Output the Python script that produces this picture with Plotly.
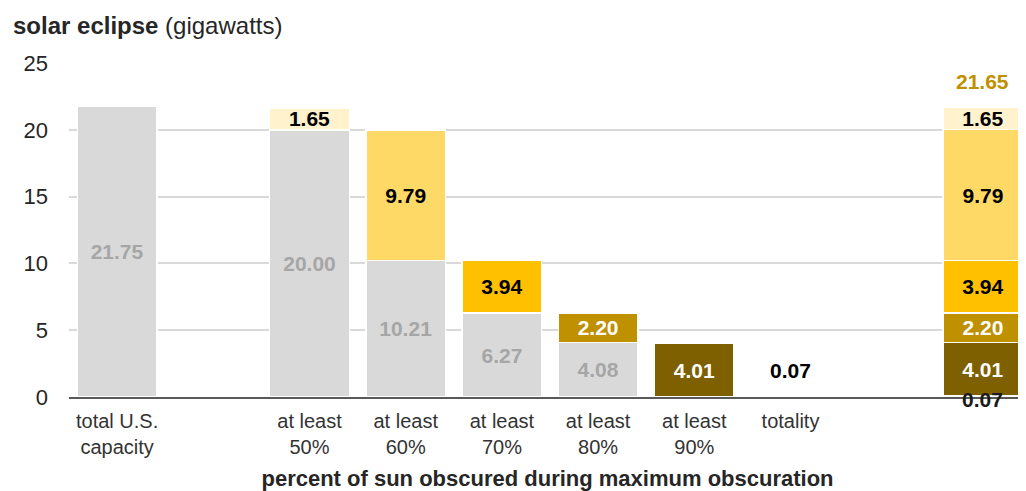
import plotly.graph_objects as go

# ---------------- data ----------------
total_label = "total U.S.<br>capacity"
bin_labels = ["at least<br>50%", "at least<br>60%", "at least<br>70%",
              "at least<br>80%", "at least<br>90%", "totality"]
total_capacity = 21.75                                   # GW
remaining_gw = [20.00, 10.21, 6.27, 4.08, 0.0, 0.0]      # grey part
band_gw = [1.65, 9.79, 3.94, 2.20, 4.01, 0.07]           # coloured band
total_affected = 21.65
band_colors = ["#fff2cc", "#ffd966", "#ffc000", "#bf9000", "#7f6000", "#3f3000"]
band_text_colors = ["#000000", "#000000", "#000000", "#ffffff", "#ffffff", "#000000"]

# categories: total, spacer, six bins, spacer, stacked summary
categories = [total_label, " "] + bin_labels + ["  ", "   "]
n = len(categories)

FONT = "Arial, Liberation Sans, sans-serif"
fig = go.Figure()

# grey base (remaining capacity)
grey_y = [total_capacity, None] + remaining_gw + [None, None]
grey_txt = [f"{v:.2f}" if v else "" for v in [total_capacity, 0] + remaining_gw + [0, 0]]
fig.add_trace(go.Bar(
    x=categories, y=grey_y, text=grey_txt, textposition="inside",
    insidetextanchor="middle",
    textfont=dict(color="#a6a6a6", family=FONT, size=21, weight="bold"),
    marker=dict(color="#d9d9d9", line=dict(color="white", width=1.5)),
    showlegend=False, hoverinfo="skip"))

# coloured bands: stacked bottom-up from totality to 50%
order = list(range(len(bin_labels)))[::-1]
for i in order:
    y = [None] * n
    y[2 + i] = band_gw[i]
    y[n - 1] = band_gw[i]
    txt = [""] * n
    if bin_labels[i] != "totality":
        txt[2 + i] = f"{band_gw[i]:.2f}"
        txt[n - 1] = f"{band_gw[i]:.2f}"
    fig.add_trace(go.Bar(
        x=categories, y=y, text=txt, textposition="inside",
        insidetextanchor="middle",
        textfont=dict(color=band_text_colors[i], family=FONT, size=21, weight="bold"),
        marker=dict(color=band_colors[i], line=dict(color="white", width=1.5)),
        showlegend=False, hoverinfo="skip", cliponaxis=False))

# totality labels (tiny bar): above its own bar, and at the foot of the summary column
fig.add_annotation(x=categories[2 + 5], y=band_gw[5], text=f"<b>{band_gw[5]:.2f}</b>",
                   showarrow=False, yanchor="bottom", yshift=12,
                   font=dict(family=FONT, size=21, color="#000000"))
fig.add_annotation(x=categories[n - 1], y=band_gw[5] / 2, text=f"<b>{band_gw[5]:.2f}</b>",
                   showarrow=False, yanchor="middle", yshift=-3,
                   font=dict(family=FONT, size=21, color="#1a1a1a"))
# total of summary column
fig.add_annotation(x=categories[n - 1], y=total_affected, text=f"<b>{total_affected:.2f}</b>",
                   showarrow=False, yanchor="bottom", yshift=13,
                   font=dict(family=FONT, size=21, color="#bf9000"))

# chart title (y-axis unit)
fig.add_annotation(xref="paper", yref="paper", x=-0.0606, y=1.0, xanchor="left", yanchor="middle",
                   yshift=38,
                   text="<b>solar eclipse</b> (gigawatts)", showarrow=False,
                   font=dict(family=FONT, size=24, color="#262626"))

fig.update_layout(
    width=1026, height=491,
    margin=dict(l=61, r=8, t=55, b=102),
    barmode="stack", bargap=0.173,
    plot_bgcolor="white", paper_bgcolor="white",
    uniformtext=dict(minsize=21, mode="show"),
    font=dict(family=FONT, color="#262626"),
    xaxis=dict(type="category", categoryorder="array", categoryarray=categories,
               range=[-0.5, 9.448], showgrid=False, ticks="",
               showline=True, linecolor="#595959", linewidth=2,
               ticklabelstandoff=5,
               tickfont=dict(size=20, color="#333333"),
               title=dict(text="<b>percent of sun obscured during maximum obscuration</b>",
                          font=dict(size=22, color="#262626"), standoff=14)),
    yaxis=dict(range=[0, 25], tickvals=[0, 5, 10, 15, 20, 25],
               showgrid=True, gridcolor="#d9d9d9", gridwidth=1.5,
               zeroline=False, showline=False, ticks="",
               ticklabelstandoff=20,
               tickfont=dict(size=22, color="#262626")),
)

fig.write_html("out.html")
